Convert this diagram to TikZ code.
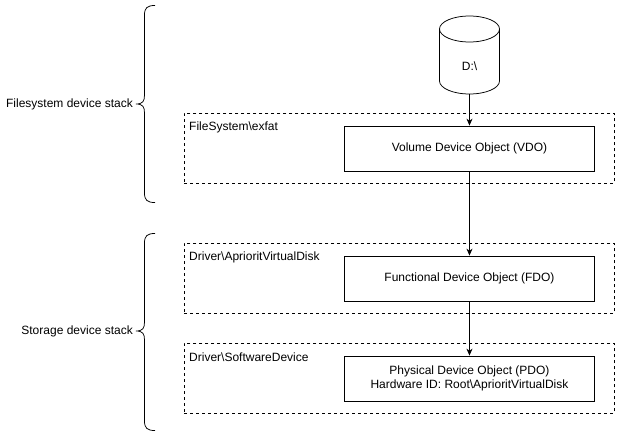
\documentclass[tikz,border=0pt]{standalone}
\usepackage{fontspec}
\usetikzlibrary{arrows.meta}
\setmainfont{Liberation Sans}
\begin{document}
\begin{tikzpicture}[x=1pt,y=-1pt,
 box/.style={draw=black,line width=0.75pt,inner sep=0pt,align=center,font=\fontsize{12}{14.4}\selectfont},
 grp/.style={draw=black,dash pattern=on 3pt off 3pt,line width=0.75pt,inner sep=0pt},
 txt/.style={inner sep=0pt,font=\fontsize{12}{14.4}\selectfont},
 arr/.style={-{Stealth[length=7pt,width=6pt]},line width=0.75pt},
 brace/.style={line width=0.75pt}]
\useasboundingbox (0,0) rectangle (620,436);
\fill[white] (0,0) rectangle (620,436);
\node[grp,minimum width=430pt,minimum height=70pt,anchor=north west] (g1) at (184,113) {};
\node[grp,minimum width=430pt,minimum height=70pt,anchor=north west] (g2) at (184,243) {};
\node[grp,minimum width=430pt,minimum height=70pt,anchor=north west] (g3) at (184,343) {};
\node[box,minimum width=250pt,minimum height=45pt,anchor=north west] (vdo) at (344.1,125.6) {Volume Device Object (VDO)};
\node[box,minimum width=250pt,minimum height=45pt,anchor=north west] (fdo) at (344.1,255.6) {Functional Device Object (FDO)};
\node[box,minimum width=250pt,minimum height=45pt,anchor=north west] (pdo) at (344.1,355.6) {Physical Device Object (PDO)\\Hardware ID: Root\textbackslash AprioritVirtualDisk};
\node[txt,anchor=west] (l1) at (189,127) {FileSystem\textbackslash exfat};
\node[txt,anchor=west] (l2) at (189,257) {Driver\textbackslash AprioritVirtualDisk};
\node[txt,anchor=west] (l3) at (189,357) {Driver\textbackslash SoftwareDevice};
\node[txt,anchor=east] (s1) at (133,104) {Filesystem device stack};
\node[txt,anchor=east] (s2) at (133,331) {Storage device stack};
\coordinate (cb) at (469.5,94);
\draw[line width=0.75pt,fill=white] (439.5,29) arc[x radius=30,y radius=13,start angle=180,end angle=360] -- (499.5,81) arc[x radius=30,y radius=13,start angle=0,end angle=180] -- cycle;
\draw[line width=0.75pt] (439.5,29) arc[x radius=30,y radius=13,start angle=180,end angle=0];
\node[txt] (d) at (469.5,66) {D:\textbackslash};
\draw[arr] (cb) -- (vdo.north);
\draw[arr] (vdo.south) -- (fdo.north);
\draw[arr] (fdo.south) -- (pdo.north);
\draw[brace] (155,5.5) .. controls (147,5.5) and (144.5,8) .. (144.5,15) -- (144.5,95) .. controls (144.5,101) and (143,104) .. (136,104) .. controls (143,104) and (144.5,107) .. (144.5,113) -- (144.5,193) .. controls (144.5,200) and (147,202.5) .. (155,202.5);
\draw[brace] (155,233.5) .. controls (147,233.5) and (144.5,236) .. (144.5,243) -- (144.5,322) .. controls (144.5,328) and (143,331) .. (136,331) .. controls (143,331) and (144.5,334) .. (144.5,340) -- (144.5,421) .. controls (144.5,428) and (147,430.5) .. (155,430.5);
\end{tikzpicture}
\end{document}
